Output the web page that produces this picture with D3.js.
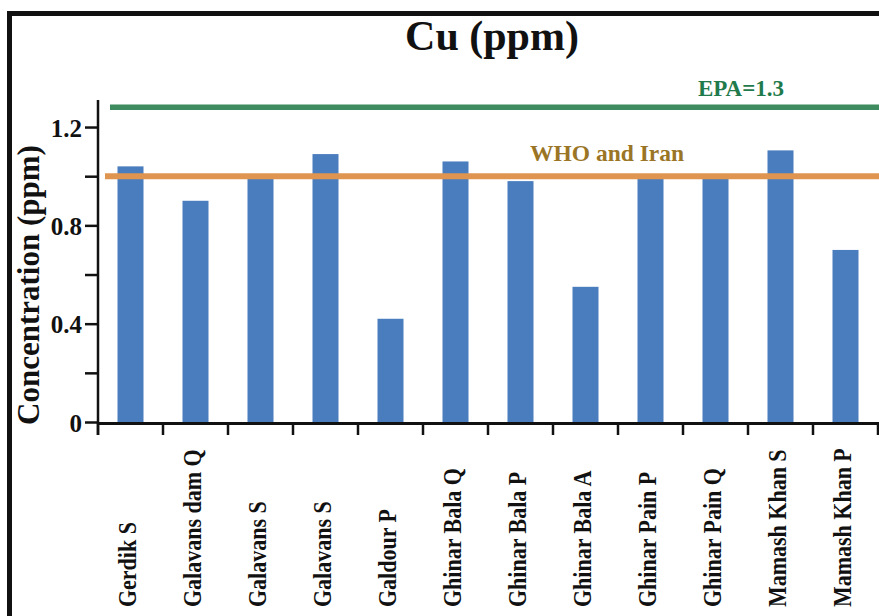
<!DOCTYPE html>
<html>
<head>
<meta charset="utf-8">
<script src="https://cdn.jsdelivr.net/npm/d3@7"></script>
<style>
html,body{margin:0;padding:0;background:#fff;}
svg{display:block;}
text{font-family:"Liberation Serif","Times New Roman",serif;font-weight:bold;}
</style>
</head>
<body>
<svg id="chart" width="879" height="616"></svg>
<script>
// ---- data ----
const categories = ["Gerdik S","Galavans dam Q","Galavans S","Galavans S","Galdour P","Ghinar Bala Q","Ghinar Bala P","Ghinar Bala A","Ghinar Pain P","Ghinar Pain Q","Mamash Khan S","Mamash Khan P"];
const cuValues = [1.04,0.90,0.99,1.09,0.42,1.06,0.98,0.55,0.995,0.995,1.105,0.70];
const yTickValues = [0,0.2,0.4,0.6,0.8,1.0,1.2];
const yTickLabels = ["0","","0.4","","0.8","","1.2"];
const guideValues = [1.28,1.0];
const guideLabels = ["EPA=1.3","WHO and Iran"];
const titleText = "Cu (ppm)";
const yTitle = "Concentration (ppm)";

// ---- layout ----
const W = 879, H = 616;
const mLeft = 98, mRight = 878, mTop = 100, mBottom = 422;
const svg = d3.select("#chart");

// frame
svg.append("rect").attr("x",9.5).attr("y",13.5).attr("width",W+20).attr("height",H+20)
  .attr("fill","#fff").attr("stroke","#111").attr("stroke-width",5);

const idx = categories.map((d,i)=>i);
const x = d3.scaleBand().domain(idx).range([mLeft,mRight]).paddingInner(0.6).paddingOuter(0.3);
const y = d3.scaleLinear().domain([0,1.31]).range([mBottom,mTop]);

// bars
svg.append("g").selectAll("rect").data(cuValues).join("rect")
  .attr("x",(d,i)=>x(i)).attr("width",x.bandwidth())
  .attr("y",d=>y(d)).attr("height",d=>y(0)-y(d))
  .attr("fill","#4a7dbe");

// guide lines
const guideColors = ["#3d8b5e","#df9550"];
const guideStart = [110,105];
svg.append("g").selectAll("line").data(guideValues).join("line")
  .attr("x1",(d,i)=>guideStart[i]).attr("x2",W)
  .attr("y1",d=>y(d)).attr("y2",d=>y(d))
  .attr("stroke",(d,i)=>guideColors[i]).attr("stroke-width",(d,i)=>i===0?5.5:6);

// guide labels
svg.append("text").attr("x",741).attr("y",y(guideValues[0])-11).attr("text-anchor","middle")
  .attr("font-size",23).attr("fill","#1f7a4c").text(guideLabels[0]);
svg.append("text").attr("x",607).attr("y",y(guideValues[1])-15).attr("text-anchor","middle")
  .attr("font-size",23.5).attr("fill","#9b7526").text(guideLabels[1]);

// y axis
const yAxis = d3.axisLeft(y).tickValues(yTickValues).tickSize(13).tickPadding(3)
  .tickFormat((d,i)=>yTickLabels[i]);
const gy = svg.append("g").attr("transform",`translate(${mLeft},0)`).call(yAxis);
gy.select(".domain").remove();
gy.selectAll(".tick line").attr("stroke","#111").attr("stroke-width",2.5);
gy.selectAll(".tick text").attr("font-size",25).attr("fill","#111")
  .attr("font-family","Liberation Serif").attr("font-weight","bold").attr("dy","0.36em");
svg.append("line").attr("x1",mLeft).attr("x2",mLeft).attr("y1",mTop).attr("y2",mBottom+13)
  .attr("stroke","#111").attr("stroke-width",2.5);

// x axis
const boundaries = idx.map(i=>x(i)-x.step()*x.paddingInner()/2).concat([mRight]);
boundaries[0] = mLeft;
svg.append("line").attr("x1",mLeft).attr("x2",W).attr("y1",mBottom+1.5).attr("y2",mBottom+1.5)
  .attr("stroke","#111").attr("stroke-width",3);
svg.append("g").selectAll("line").data(boundaries).join("line")
  .attr("x1",d=>d).attr("x2",d=>d).attr("y1",mBottom).attr("y2",mBottom+13)
  .attr("stroke","#111").attr("stroke-width",2.5);

// x labels
svg.append("g").selectAll("text").data(categories).join("text")
  .attr("transform",(d,i)=>`translate(${x(i)+x.bandwidth()/2+5},607) rotate(-90) scale(1,1.15)`)
  .attr("text-anchor","start").attr("font-size",22).attr("fill","#111").text(d=>d);

// y title
svg.append("text").attr("transform","translate(39,285) rotate(-90)")
  .attr("text-anchor","middle").attr("font-size",31).attr("fill","#111").text(yTitle);

// title
svg.append("text").attr("x",492).attr("y",50).attr("text-anchor","middle")
  .attr("font-size",42).attr("fill","#111").text(titleText);
</script>
</body>
</html>
